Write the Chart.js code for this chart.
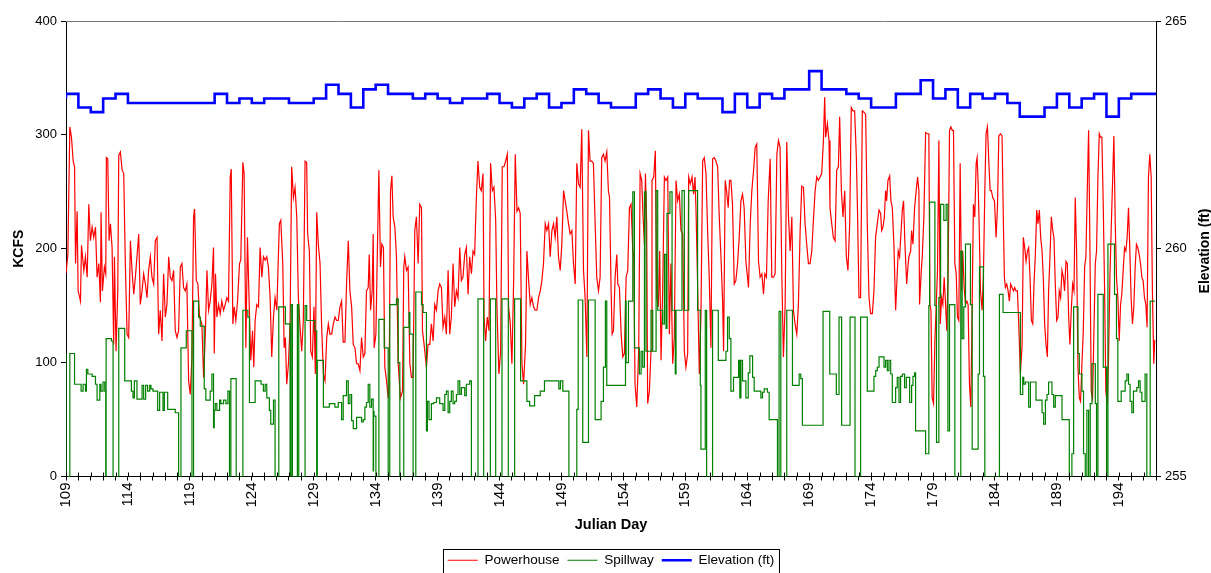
<!DOCTYPE html>
<html>
<head>
<meta charset="utf-8">
<title>Powerhouse / Spillway / Elevation</title>
<script src="https://cdn.jsdelivr.net/npm/chart.js@4.4.0/dist/chart.umd.min.js"></script>
<style>
  html, body { margin: 0; padding: 0; background: #fff; }
  #wrap { width: 1211px; height: 573px; }
</style>
</head>
<body>
<div id="wrap"><canvas id="flowChart" width="1211" height="573"></canvas></div>
<script>
// [julian day, kcfs]
const powerhouse = [
  [109.0,178],[109.15,195],[109.31,307],[109.44,298],[109.58,277],[109.69,272],[109.77,187],[109.90,233],[109.98,163],[110.17,154],
  [110.25,203],[110.44,181],[110.57,193],[110.71,175],[110.84,239],[110.97,207],[111.11,219],[111.24,210],[111.38,219],[111.51,175],
  [111.65,187],[111.78,153],[111.83,232],[111.94,163],[112.10,184],[112.21,178],[112.26,280],[112.37,279],[112.48,207],[112.59,222],
  [112.72,201],[112.85,116],[112.91,193],[113.04,110],[113.18,163],[113.26,282],[113.39,285],[113.53,269],[113.66,266],[113.79,187],
  [113.93,125],[114.06,122],[114.20,207],[114.33,181],[114.47,160],[114.60,175],[114.73,193],[114.87,213],[115.00,151],[115.14,163],
  [115.27,178],[115.41,169],[115.54,157],[115.67,181],[115.81,193],[115.94,175],[116.08,169],[116.21,207],[116.35,210],[116.48,125],
  [116.61,146],[116.75,119],[116.88,178],[117.02,140],[117.15,151],[117.29,193],[117.42,175],[117.55,172],[117.69,181],[117.82,128],
  [117.96,122],[118.09,128],[118.23,184],[118.36,187],[118.49,166],[118.63,163],[118.76,169],[118.90,84],[119.03,72],[119.17,105],
  [119.30,228],[119.38,235],[119.52,172],[119.65,169],[119.78,140],[119.97,134],[120.11,87],[120.24,122],[120.38,181],[120.51,146],
  [120.64,154],[120.78,169],[120.91,201],[120.97,108],[121.07,178],[121.18,140],[121.32,151],[121.45,143],[121.58,154],[121.72,146],
  [121.85,151],[121.99,157],[122.12,154],[122.26,263],[122.34,270],[122.47,134],[122.58,149],[122.71,137],[122.85,154],[123.01,187],
  [123.11,190],[123.28,276],[123.38,266],[123.52,113],[123.65,210],[123.79,151],[123.92,102],[124.06,128],[124.16,96],[124.27,137],
  [124.40,151],[124.54,149],[124.67,201],[124.81,175],[124.94,193],[125.08,190],[125.21,193],[125.34,184],[125.48,157],[125.61,105],
  [125.75,140],[125.88,157],[126.02,146],[126.15,195],[126.23,222],[126.34,225],[126.50,187],[126.61,113],[126.71,122],[126.82,81],
  [126.96,99],[127.09,134],[127.22,272],[127.36,245],[127.49,254],[127.63,228],[127.76,157],[127.90,131],[128.03,110],[128.16,137],
  [128.30,277],[128.43,276],[128.51,213],[128.65,198],[128.76,110],[128.89,105],[129.02,149],[129.13,90],[129.24,232],[129.37,204],
  [129.51,187],[129.64,131],[129.78,90],[129.91,84],[130.05,122],[130.18,134],[130.31,125],[130.45,125],[130.58,134],[130.72,140],
  [130.85,137],[130.98,137],[131.12,149],[131.25,154],[131.38,118],[131.52,118],[131.65,169],[131.79,207],[131.92,163],[132.06,149],
  [132.19,116],[132.33,113],[132.46,99],[132.59,99],[132.73,93],[132.86,122],[133.00,105],[133.13,108],[133.26,163],[133.40,166],
  [133.48,195],[133.59,146],[133.72,163],[133.80,213],[133.88,113],[134.02,125],[134.12,187],[134.26,269],[134.39,184],[134.50,204],
  [134.63,201],[134.74,96],[134.88,84],[135.01,69],[135.09,87],[135.20,251],[135.31,264],[135.41,228],[135.55,219],[135.68,193],
  [135.82,99],[136.00,69],[136.17,75],[136.27,184],[136.35,193],[136.49,181],[136.62,184],[136.76,99],[136.89,87],[137.02,87],
  [137.16,216],[137.29,228],[137.43,187],[137.56,239],[137.70,236],[137.78,128],[137.91,116],[138.10,96],[138.23,116],[138.37,116],
  [138.50,134],[138.64,119],[138.77,151],[138.91,146],[139.04,163],[139.17,169],[139.31,166],[139.44,131],[139.58,140],[139.71,125],
  [139.85,181],[139.98,125],[140.11,140],[140.25,187],[140.38,149],[140.52,163],[140.65,157],[140.79,201],[140.92,172],[141.05,175],
  [141.19,195],[141.32,201],[141.46,160],[141.59,193],[141.73,178],[141.86,198],[141.99,195],[142.13,245],[142.26,277],[142.40,254],
  [142.53,251],[142.67,266],[142.75,140],[142.88,119],[143.01,140],[143.15,128],[143.28,275],[143.42,251],[143.55,254],[143.69,225],
  [143.79,149],[143.95,90],[144.09,110],[144.22,272],[144.36,272],[144.49,277],[144.63,283],[144.73,149],[144.87,134],[145.00,99],
  [145.14,172],[145.27,283],[145.41,233],[145.54,236],[145.67,231],[145.81,99],[145.94,81],[146.10,116],[146.21,198],[146.35,172],
  [146.48,151],[146.61,157],[146.75,149],[146.88,146],[147.02,146],[147.15,157],[147.29,163],[147.42,172],[147.55,187],[147.69,222],
  [147.82,216],[147.96,222],[148.09,193],[148.23,216],[148.36,222],[148.49,210],[148.63,228],[148.76,193],[148.90,181],[149.03,204],
  [149.17,251],[149.30,242],[149.43,233],[149.57,222],[149.70,213],[149.84,216],[149.97,187],[150.11,169],[150.24,275],[150.38,257],
  [150.51,254],[150.64,305],[150.78,181],[150.91,157],[151.05,105],[151.18,304],[151.31,277],[151.45,277],[151.58,275],[151.72,222],
  [151.85,175],[151.99,163],[152.12,175],[152.25,280],[152.39,283],[152.52,277],[152.66,285],[152.79,251],[152.88,245],[153.01,163],
  [153.09,125],[153.20,128],[153.33,175],[153.47,195],[153.55,169],[153.68,166],[153.82,125],[153.95,105],[154.08,108],[154.22,175],
  [154.35,181],[154.49,236],[154.62,239],[154.76,198],[154.84,193],[154.94,81],[155.08,61],[155.24,113],[155.35,266],[155.48,260],
  [155.59,228],[155.70,204],[155.78,266],[155.88,222],[155.96,64],[156.10,75],[156.23,110],[156.31,260],[156.45,263],[156.58,286],
  [156.69,157],[156.82,149],[156.93,198],[157.04,102],[157.17,163],[157.31,263],[157.44,260],[157.58,263],[157.71,125],[157.84,187],
  [157.98,99],[158.11,122],[158.25,260],[158.38,242],[158.52,248],[158.65,216],[158.79,213],[158.92,110],[159.05,96],[159.19,108],
  [159.27,263],[159.40,257],[159.54,263],[159.67,248],[159.78,263],[159.86,236],[159.99,169],[160.13,90],[160.26,140],[160.40,277],
  [160.53,280],[160.67,266],[160.80,216],[160.93,175],[161.07,113],[161.20,279],[161.34,280],[161.47,277],[161.61,272],[161.74,228],
  [161.87,195],[162.01,154],[162.09,110],[162.22,260],[162.33,251],[162.46,236],[162.57,260],[162.68,260],[162.81,239],[162.95,169],
  [163.08,172],[163.22,187],[163.35,210],[163.49,242],[163.62,248],[163.75,236],[163.89,189],[164.02,175],[164.10,166],[164.24,222],
  [164.37,251],[164.51,269],[164.64,289],[164.77,292],[164.91,189],[165.04,175],[165.18,178],[165.31,160],[165.42,178],[165.55,175],
  [165.69,242],[165.85,279],[165.98,175],[166.12,175],[166.25,178],[166.39,283],[166.52,295],[166.65,289],[166.79,178],[166.92,105],
  [167.06,151],[167.19,294],[167.33,228],[167.46,198],[167.60,228],[167.73,146],[167.86,134],[168.00,125],[168.13,151],[168.27,216],
  [168.40,255],[168.54,254],[168.67,222],[168.80,204],[168.94,187],[169.07,187],[169.21,198],[169.34,225],[169.48,251],[169.61,263],
  [169.74,260],[169.88,263],[170.01,266],[170.15,295],[170.25,333],[170.33,298],[170.47,310],[170.60,295],[170.68,236],[170.82,222],
  [170.95,210],[171.09,207],[171.22,269],[171.36,272],[171.46,316],[171.60,251],[171.73,228],[171.87,251],[172.00,193],[172.13,181],
  [172.27,222],[172.40,324],[172.54,321],[172.67,321],[172.81,280],[172.91,228],[173.02,157],[173.15,157],[173.29,321],[173.42,320],
  [173.56,318],[173.69,222],[173.83,157],[173.96,143],[174.10,143],[174.23,163],[174.36,210],[174.50,222],[174.64,234],[174.77,231],
  [174.85,216],[174.96,219],[175.07,228],[175.17,251],[175.25,242],[175.36,260],[175.50,264],[175.60,242],[175.71,236],[175.84,204],
  [175.98,146],[176.11,178],[176.19,198],[176.30,193],[176.44,219],[176.52,234],[176.62,242],[176.73,204],[176.87,169],[176.97,184],
  [177.05,193],[177.19,198],[177.27,216],[177.38,204],[177.51,236],[177.64,251],[177.75,263],[177.86,251],[177.91,151],[178.05,181],
  [178.13,193],[178.26,228],[178.40,302],[178.53,301],[178.66,301],[178.75,151],[178.83,146],[178.93,69],[179.04,64],[179.15,119],
  [179.26,151],[179.36,181],[179.47,295],[179.58,134],[179.69,157],[179.79,151],[179.90,175],[180.01,151],[180.11,128],[180.22,181],
  [180.33,304],[180.44,307],[180.55,304],[180.65,304],[180.76,187],[180.87,178],[180.97,140],[181.08,137],[181.19,275],[181.30,163],
  [181.40,198],[181.51,166],[181.62,151],[181.73,154],[181.83,151],[181.94,81],[182.05,61],[182.16,151],[182.26,239],[182.37,228],
  [182.48,275],[182.56,280],[182.64,257],[182.72,222],[182.83,163],[182.96,146],[183.07,178],[183.18,251],[183.28,301],[183.39,307],
  [183.50,277],[183.61,251],[183.71,251],[183.82,245],[183.96,242],[184.09,210],[184.20,236],[184.31,299],[184.44,301],[184.57,299],
  [184.68,222],[184.76,175],[184.84,166],[184.95,169],[185.06,163],[185.16,154],[185.27,169],[185.38,166],[185.49,163],[185.59,166],
  [185.70,163],[185.81,163],[185.92,134],[186.05,90],[186.19,116],[186.29,210],[186.40,201],[186.51,189],[186.62,198],[186.72,201],
  [186.83,175],[186.94,137],[187.05,134],[187.15,169],[187.26,195],[187.37,234],[187.47,222],[187.58,234],[187.69,210],[187.80,198],
  [187.90,175],[188.01,134],[188.12,116],[188.23,105],[188.33,163],[188.44,193],[188.55,228],[188.66,216],[188.76,210],[188.87,169],
  [188.98,137],[189.09,140],[189.19,163],[189.30,157],[189.41,181],[189.52,175],[189.62,163],[189.73,189],[189.84,187],[189.95,140],
  [190.05,116],[190.16,146],[190.27,169],[190.38,163],[190.48,245],[190.59,198],[190.70,96],[190.81,69],[190.91,66],[191.02,99],
  [191.13,128],[191.24,184],[191.34,193],[191.45,251],[191.56,304],[191.67,198],[191.77,75],[191.88,69],[191.99,128],[192.10,187],
  [192.20,198],[192.31,263],[192.42,301],[192.52,298],[192.63,298],[192.74,239],[192.85,163],[192.95,75],[193.06,64],[193.17,105],
  [193.28,175],[193.38,216],[193.49,257],[193.60,299],[193.71,222],[193.81,175],[193.92,157],[194.03,119],[194.14,151],[194.24,160],
  [194.35,181],[194.46,201],[194.57,198],[194.67,210],[194.78,236],[194.89,198],[194.99,157],[195.10,134],[195.21,149],[195.32,184],
  [195.42,204],[195.53,201],[195.64,195],[195.75,187],[195.86,175],[195.96,172],[196.07,157],[196.18,151],[196.28,131],[196.39,263],
  [196.50,283],[196.61,263],[196.71,163],[196.82,99],[196.9,120]
];

// [julian day, kcfs] - value holds until the next reading
const spillway = [
  [109.0,108],[109.31,0],[109.69,108],[110.22,81],[110.38,75],[110.57,81],[110.65,75],[110.76,94],[111.11,90],[111.38,88],
  [111.51,81],[111.73,67],[111.83,81],[111.99,75],[112.13,83],[112.21,75],[112.24,0],[112.67,121],[112.80,119],[113.26,0],
  [113.74,130],[114.28,84],[114.41,75],[114.52,69],[114.73,84],[115.14,68],[115.27,80],[115.43,68],[115.59,80],[115.76,75],
  [115.86,80],[116.02,77],[116.40,75],[116.56,58],[116.83,74],[116.94,58],[117.21,74],[117.82,59],[118.09,56],[118.28,0],
  [118.71,113],[119.17,128],[119.30,0],[119.70,154],[119.84,140],[120.16,132],[120.29,77],[120.64,67],[120.78,75],[120.91,90],
  [120.97,43],[121.05,58],[121.18,64],[121.40,58],[121.50,67],[121.72,64],[121.91,67],[122.07,64],[122.20,75],[122.31,0],
  [122.74,86],[123.28,0],[123.68,146],[123.81,140],[124.27,65],[124.75,84],[124.94,81],[125.08,75],[125.21,81],[125.42,69],
  [125.53,58],[125.75,46],[125.88,67],[126.18,0],[126.71,149],[127.09,134],[127.17,0],[127.28,151],[127.68,0],[127.79,151],
  [128.30,0],[128.43,150],[129.10,137],[129.24,128],[129.29,0],[129.78,102],[130.26,61],[130.71,64],[130.98,61],[131.25,65],
  [131.38,50],[131.65,71],[131.79,84],[131.92,64],[132.06,72],[132.19,49],[132.46,42],[132.86,52],[133.00,48],[133.13,50],
  [133.26,61],[133.40,65],[133.53,81],[133.67,61],[133.80,68],[133.83,5],[133.87,57],[134.02,53],[134.26,0],[134.69,138],
  [135.01,113],[135.14,0],[135.68,151],[135.82,156],[135.95,100],[136.27,0],[136.70,131],[136.76,144],[137.02,125],[137.24,0],
  [137.70,162],[137.83,151],[138.10,144],[138.18,40],[138.31,66],[138.50,50],[138.69,64],[138.91,65],[139.17,69],[139.44,64],
  [139.58,58],[139.71,72],[139.85,75],[139.98,56],[140.11,66],[140.25,75],[140.38,64],[140.52,66],[140.65,72],[140.79,84],
  [140.92,72],[141.19,78],[141.32,71],[141.59,81],[141.73,84],[142.26,0],[142.72,156],[143.26,0],[143.69,156],[144.20,0],
  [144.71,156],[145.22,0],[145.70,156],[146.21,84],[146.43,66],[146.83,62],[147.29,71],[147.63,75],[148.79,84],[148.92,77],
  [149.11,84],[149.60,75],[150.24,0],[150.35,59],[150.72,155],[151.18,30],[151.72,155],[152.20,50],[152.39,66],[152.55,96],
  [152.66,154],[154.17,80],[154.22,154],[154.41,100],[154.76,154],[154.89,250],[155.29,113],[155.43,90],[155.56,110],[155.70,96],
  [155.83,250],[156.23,110],[156.37,146],[156.64,110],[156.77,251],[157.17,146],[157.31,134],[157.44,195],[157.52,130],[157.76,231],
  [157.93,250],[158.19,146],[158.25,90],[158.73,146],[158.92,251],[159.27,146],[159.99,251],[160.21,146],[160.26,80],[160.61,24],
  [160.72,146],[161.20,0],[161.66,146],[162.28,102],[162.41,110],[162.55,140],[162.68,121],[162.89,75],[163.30,87],[163.40,102],
  [163.49,69],[163.62,102],[163.89,84],[164.08,69],[164.21,91],[164.43,106],[164.56,87],[165.10,75],[165.23,69],[165.37,74],
  [165.63,77],[165.77,74],[166.44,50],[166.57,0],[166.71,145],[167.19,0],[167.65,146],[168.19,80],[168.32,90],[168.45,86],
  [170.12,45],[170.66,145],[171.19,90],[171.41,72],[171.62,140],[172.30,45],[172.70,140],[173.15,0],[173.69,140],[174.23,75],
  [174.37,88],[174.50,93],[174.64,96],[175.04,105],[175.17,96],[175.31,102],[175.44,93],[175.58,102],[175.71,90],[175.98,65],
  [176.11,78],[176.25,87],[176.38,65],[176.52,88],[176.70,90],[176.84,78],[177.11,87],[177.27,65],[177.38,80],[177.51,88],
  [177.59,91],[178.40,40],[178.66,20],[178.72,150],[179.15,241],[179.28,150],[179.47,30],[179.61,157],[179.87,239],[180.06,225],
  [180.20,239],[180.33,40],[180.76,151],[181.24,0],[181.35,198],[181.48,121],[181.62,149],[182.02,204],[182.16,151],[182.64,24],
  [182.75,90],[183.07,184],[183.18,88],[184.36,0],[184.65,160],[186.05,144],[186.24,72],[186.32,87],[186.45,81],[186.72,83],
  [186.86,61],[187.31,83],[187.80,67],[187.93,56],[188.07,46],[188.20,67],[188.33,72],[188.60,83],[188.74,72],[188.87,61],
  [189.41,71],[190.00,50],[190.21,0],[190.35,20],[190.70,149],[190.81,108],[191.02,90],[191.15,75],[191.29,20],[191.42,0],
  [191.56,58],[191.69,0],[191.83,64],[192.10,99],[192.20,64],[192.31,0],[192.74,160],[193.01,96],[193.12,0],[193.65,204],
  [193.81,160],[193.92,121],[194.19,66],[194.51,75],[194.65,84],[194.78,90],[194.91,81],[195.05,66],[195.18,56],[195.45,75],
  [195.59,78],[195.72,84],[195.86,74],[196.12,66],[196.26,90],[196.53,0],[196.72,154],[196.9,154]
];

// daily forebay elevation (ft), day 109 onward; last entry closes day 196
const elevFirstDay = 109;
const elevationFt = [
  263.3,263.4,263.1,263.0,263.3,263.4,263.2,263.2,263.2,263.2,
  263.2,263.2,263.2,263.4,263.2,263.3,263.2,263.3,263.3,263.2,
  263.2,263.3,263.6,263.4,263.1,263.5,263.6,263.4,263.4,263.3,
  263.4,263.3,263.2,263.3,263.3,263.4,263.2,263.1,263.3,263.4,
  263.1,263.2,263.5,263.4,263.2,263.1,263.1,263.4,263.5,263.3,
  263.1,263.4,263.3,263.3,263.0,263.4,263.1,263.4,263.3,263.5,
  263.5,263.9,263.5,263.5,263.4,263.3,263.1,263.1,263.4,263.4,
  263.7,263.3,263.5,263.1,263.4,263.3,263.4,263.2,262.9,262.9,
  263.1,263.4,263.1,263.3,263.4,262.9,263.3,263.4,263.4
];

const dayLabels = [109, 114, 119, 124, 129, 134, 139, 144, 149, 154, 159, 164, 169, 174, 179, 184, 189, 194];

const FONT = "'Liberation Sans', Arial, Helvetica, sans-serif";

const toXY = rows => rows.map(r => ({ x: r[0], y: r[1] }));
const elevPoints = elevationFt.map((v, i) => ({ x: elevFirstDay + i, y: v }));

// frame top, inner halves of x ticks, right-hand title, legend box
const extras = {
  id: 'extras',
  afterDraw(chart) {
    const ctx = chart.ctx;
    const area = chart.chartArea;
    const xs = chart.scales.x;
    ctx.save();
    ctx.lineWidth = 1;
    ctx.strokeStyle = '#777';
    ctx.beginPath();
    ctx.moveTo(area.left, Math.round(area.top) + 0.5);
    ctx.lineTo(area.right, Math.round(area.top) + 0.5);
    ctx.stroke();

    ctx.strokeStyle = '#000';
    ctx.beginPath();
    xs.ticks.forEach(t => {
      const px = Math.round(xs.getPixelForValue(t.value)) + 0.5;
      ctx.moveTo(px, area.bottom);
      ctx.lineTo(px, area.bottom - 4);
    });
    ctx.stroke();

    ctx.fillStyle = '#000';
    ctx.font = 'bold 14px ' + FONT;
    ctx.textAlign = 'center';
    ctx.textBaseline = 'middle';
    ctx.translate(1205, 251);
    ctx.rotate(-Math.PI / 2);
    ctx.fillText('Elevation (ft)', 0, 0);
    ctx.restore();

    const boxes = chart.legend.legendHitBoxes;
    if (boxes && boxes.length) {
      const l = Math.min(...boxes.map(b => b.left)) - 5;
      const r = Math.max(...boxes.map(b => b.left + b.width)) + 4;
      const t = Math.min(...boxes.map(b => b.top)) - 5;
      const b2 = Math.min(Math.max(...boxes.map(b => b.top + b.height)) + 6, chart.height - 1);
      ctx.save();
      ctx.strokeStyle = '#000';
      ctx.lineWidth = 1;
      ctx.strokeRect(Math.round(l) + 0.5, Math.round(t) + 0.5, Math.round(r - l), Math.round(b2 - t));
      ctx.restore();
    }
  }
};

new Chart(document.getElementById('flowChart'), {
  type: 'line',
  data: {
    datasets: [
      {
        label: 'Powerhouse',
        data: toXY(powerhouse),
        borderColor: '#ff0000',
        borderWidth: 1.2,
        pointRadius: 0,
        tension: 0,
        yAxisID: 'y',
        order: 3
      },
      {
        label: 'Spillway',
        data: toXY(spillway),
        borderColor: '#008000',
        borderWidth: 1.2,
        pointRadius: 0,
        stepped: 'after',
        yAxisID: 'y',
        order: 2
      },
      {
        label: 'Elevation (ft)',
        data: elevPoints,
        borderColor: '#0000ff',
        borderWidth: 2.6,
        pointRadius: 0,
        stepped: 'after',
        yAxisID: 'y2',
        order: 1
      }
    ]
  },
  options: {
    responsive: false,
    animation: false,
    devicePixelRatio: 1,
    layout: { padding: { top: 21, left: 0, right: 0, bottom: -4 } },
    plugins: {
      tooltip: { enabled: false },
      legend: {
        position: 'bottom',
        fullSize: false,
        labels: {
          font: { family: FONT, size: 13.5 },
          color: '#000',
          usePointStyle: true,
          pointStyle: 'line',
          pointStyleWidth: 30,
          boxHeight: 13,
          padding: 8,
          sort: (a, b) => a.datasetIndex - b.datasetIndex
        }
      }
    },
    scales: {
      x: {
        type: 'linear',
        min: 109,
        max: 197,
        afterFit: s => { s.height = 69; },
        grid: { drawOnChartArea: false, tickLength: 4, color: '#000' },
        border: { color: '#000' },
        ticks: {
          stepSize: 1,
          autoSkip: false,
          maxRotation: 90,
          minRotation: 90,
          padding: 2,
          color: '#000',
          font: { family: FONT, size: 15 },
          callback: v => dayLabels.includes(v) ? String(v) : ''
        },
        title: {
          display: true,
          text: 'Julian Day',
          color: '#000',
          font: { family: FONT, size: 14.5, weight: 'bold' },
          padding: { top: 0, bottom: 12 }
        }
      },
      y: {
        position: 'left',
        min: 0,
        max: 400,
        afterFit: s => { s.width = 66; },
        grid: { drawOnChartArea: false, tickLength: 5, color: '#000' },
        border: { color: '#000' },
        ticks: {
          stepSize: 100,
          padding: 4,
          color: '#000',
          font: { family: FONT, size: 13 }
        },
        title: {
          display: true,
          text: 'KCFS',
          color: '#000',
          font: { family: FONT, size: 14, weight: 'bold' },
          padding: { top: 11, bottom: 0 }
        }
      },
      y2: {
        position: 'right',
        min: 255,
        max: 265,
        afterFit: s => { s.width = 55; },
        grid: { drawOnChartArea: false, tickLength: 5, color: '#000' },
        border: { color: '#000' },
        ticks: {
          stepSize: 5,
          padding: 4,
          color: '#000',
          font: { family: FONT, size: 13 }
        }
      }
    }
  },
  plugins: [extras]
});
</script>
</body>
</html>
